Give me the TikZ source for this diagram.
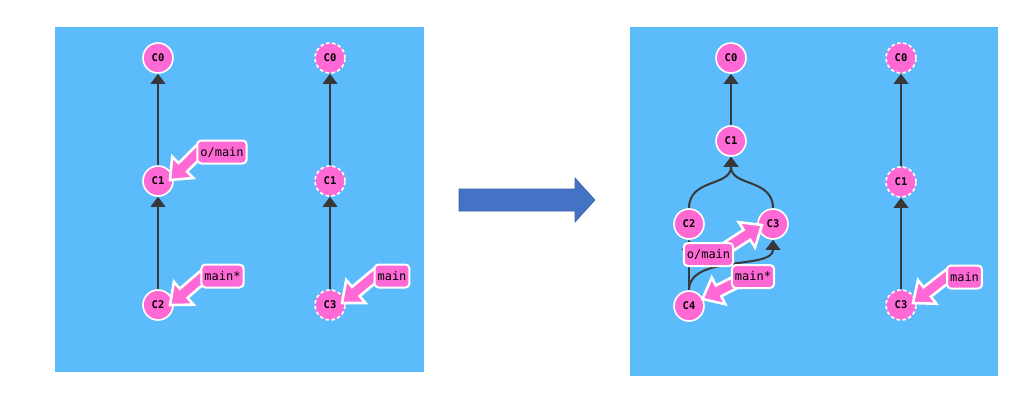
\documentclass[tikz,border=0pt]{standalone}
\usepackage{fontspec}
\usetikzlibrary{arrows.meta,calc}
\newfontfamily\gitmono{DejaVu Sans Mono}
\definecolor{panelblue}{HTML}{5CBBFB}
\definecolor{commitpink}{HTML}{FF69D6}
\definecolor{edgegray}{HTML}{383838}
\definecolor{bigarrow}{HTML}{4472C4}
\definecolor{bigarrowedge}{HTML}{3B64AE}
\pgfdeclarelayer{panels}
\pgfdeclarelayer{edges}
\pgfdeclarelayer{pointers}
\pgfdeclarelayer{labels}
\pgfsetlayers{panels,edges,main,pointers,labels}
% thick branch pointer: #1 = start (under the label), #2 = tip (on the commit)
\newcommand\gitpointer[2]{%
  \coordinate (pfrom) at (#1);
  \coordinate (ptip) at (#2);
  \coordinate (pbase) at ($(ptip)!18pt!(pfrom)$);
  \filldraw[pointer] (ptip)
    -- ($(pbase)!15pt!90:(pfrom)$) -- ($(pbase)!6pt!90:(pfrom)$)
    -- ($(pfrom)!6pt!-90:(pbase)$) -- ($(pfrom)!6pt!90:(pbase)$)
    -- ($(pbase)!6pt!-90:(pfrom)$) -- ($(pbase)!15pt!-90:(pfrom)$)
    -- cycle;}
\begin{document}
\begin{tikzpicture}[x=1pt,y=-1pt,
  commit/.style={circle, draw=white, line width=1.6pt, fill=commitpink,
    minimum size=30pt, inner sep=0pt,
    font=\gitmono\bfseries\fontsize{10.5}{10.5}\selectfont},
  ghost/.style={commit, dash pattern=on 3.5pt off 2.5pt},
  branch/.style={rectangle, rounded corners=4pt, draw=white, line width=2pt,
    fill=commitpink, minimum height=23pt, inner xsep=3pt, inner ysep=0pt,
    font=\gitmono\fontsize{12}{12}\selectfont},
  parent/.style={draw=edgegray, line width=2pt,
    -{Triangle[width=15pt,length=10pt,line width=0pt]}},
  pointer/.style={fill=commitpink, draw=white, line width=2.6pt,
    line join=miter, miter limit=4},
  panel/.style={fill=panelblue, draw=none}]
\useasboundingbox (0,0) rectangle (1036,402);

% background panels
\begin{pgfonlayer}{panels}
  \fill[white] (0,0) rectangle (1036,402);
  \path[panel] (55,27) rectangle (424,372);
  \path[panel] (630,27) rectangle (998,376);
\end{pgfonlayer}

% ---- before: local repository
\node[commit] (a0) at (158,58)  {C0};
\node[commit] (a1) at (158,181) {C1};
\node[commit] (a2) at (158,305) {C2};
% ---- before: remote repository
\node[ghost] (b0) at (330,58)  {C0};
\node[ghost] (b1) at (330,181) {C1};
\node[ghost] (b3) at (330,305) {C3};

% ---- after: local repository
\node[commit] (c0) at (731,58)  {C0};
\node[commit] (c1) at (731,141) {C1};
\node[commit] (c2) at (689,224) {C2};
\node[commit] (c3) at (773,224) {C3};
\node[commit] (c4) at (689,306) {C4};
% ---- after: remote repository
\node[ghost] (d0) at (901,58)  {C0};
\node[ghost] (d1) at (901,182) {C1};
\node[ghost] (d3) at (901,305) {C3};

% branch labels
\begin{pgfonlayer}{labels}
  \node[branch] (aorig) at (222,152)   {o/main};
  \node[branch] (amain) at (222.5,276) {main*};
  \node[branch] (bmain) at (392,276)   {main};
  \node[branch] (corig) at (708.5,254.5) {o/main};
  \node[branch] (cmain) at (753,276.5) {main*};
  \node[branch] (dmain) at (964.5,277) {main};
\end{pgfonlayer}

% parent links
\begin{pgfonlayer}{edges}
  \draw[parent] (a1) -- (a0);
  \draw[parent] (a2) -- (a1);
  \draw[parent] (b1) -- (b0);
  \draw[parent] (b3) -- (b1);
  \draw[parent] (c1) -- (c0);
  \draw[parent] (c2.north) .. controls +(0,-30) and +(0,30) .. (c1.south);
  \draw[parent] (c3.north) .. controls +(0,-30) and +(0,30) .. (c1.south);
  \draw[parent] (c4) -- (c2);
  \draw[parent] (c4.north) .. controls +(0,-36) and +(0,30) .. (c3.south);
  \draw[parent] (d1) -- (d0);
  \draw[parent] (d3) -- (d1);
\end{pgfonlayer}

% branch pointers
\begin{pgfonlayer}{pointers}
  \gitpointer{$(aorig.west)+(8,-6)$}{$(a1)+(12,-1)$}
  \gitpointer{$(amain.west)+(8,-4)$}{$(a2)+(12,0)$}
  \gitpointer{$(bmain.west)+(8,-6)$}{$(b3)+(12,-2)$}
  \gitpointer{$(corig.east)+(-10,-5)$}{$(c3)+(-11,1)$}
  \gitpointer{$(cmain.west)+(8,4)$}{$(c4)+(13.5,-7)$}
  \gitpointer{$(dmain.west)+(8,-6)$}{$(d3)+(12,-2)$}
\end{pgfonlayer}

% transition arrow
\fill[bigarrow, draw=bigarrowedge, line width=0.6pt]
  (459,189) -- (575,189) -- (575,178) -- (595,200) -- (575,222)
  -- (575,211) -- (459,211) -- cycle;
\end{tikzpicture}
\end{document}
